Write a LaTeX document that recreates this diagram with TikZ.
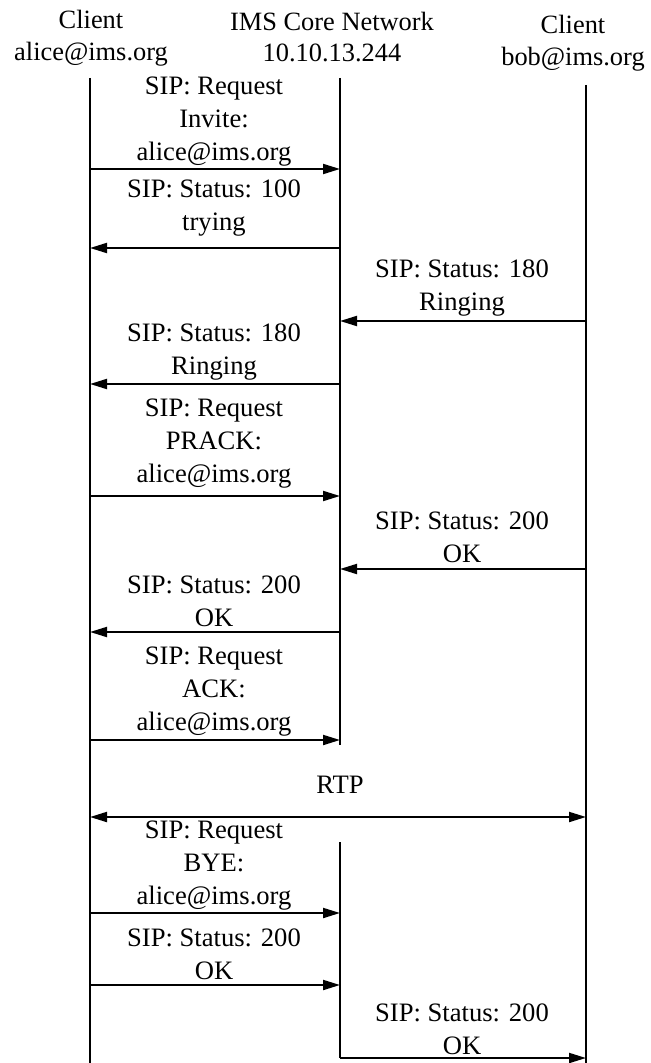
\documentclass[tikz,border=0pt]{standalone}
\usepackage{fontspec}
\setmainfont{Liberation Serif}
\usetikzlibrary{arrows.meta}
\begin{document}
\begin{tikzpicture}[x=0.5pt,y=-0.5pt,
  head/.style={font=\fontsize{13.2}{15.8}\selectfont, align=center, inner sep=0pt},
  lbl/.style={font=\fontsize{13.3}{16.5}\selectfont, align=center, inner sep=0pt},
  life/.style={line width=1pt},
  msg/.style={line width=1pt, -{Triangle[length=8.5pt,width=5pt]}},
  duplex/.style={line width=1pt, {Triangle[length=8.5pt,width=5pt]}-{Triangle[length=8.5pt,width=5pt]}}]
\useasboundingbox (0,0) rectangle (650,1063);

% participants
\node[head] (alice) at (91,38) {Client\\alice@ims.org};
\node[head] (ims) at (332,37) {IMS Core Network\\10.10.13.244};
\node[head] (bob) at (573,43) {Client\\bob@ims.org};

% lifeline end points
\coordinate (aT) at (90,78);   \coordinate (aB) at (90,1063);
\coordinate (mT) at (340,78);  \coordinate (mE) at (340,745);
\coordinate (mR) at (340,842); \coordinate (mB) at (340,1058);
\coordinate (bT) at (586,85);  \coordinate (bB) at (586,1063);

\draw[life] (aT) -- (aB);
\draw[life] (mT) -- (mE);
\draw[life] (mR) -- (mB);
\draw[life] (bT) -- (bB);

% message end points on the lifelines
\foreach \n/\y in {1/169,2/248,4/384,5/496,7/632,8/740,9/817,10/913,11/985}
  \coordinate (a\n) at (90,\y);
\foreach \n/\y in {1/169,2/248,3/321,4/384,5/496,6/569,7/632,8/740,10/913,11/985,12/1058}
  \coordinate (m\n) at (340,\y);
\foreach \n/\y in {3/321,6/569,9/817,12/1058}
  \coordinate (b\n) at (586,\y);

% messages
\draw[msg] (a1) -- (m1);
\node[lbl] (l1) at (214,122) {SIP: Request\\Invite:\\alice@ims.org};

\draw[msg] (m2) -- (a2);
\node[lbl] (l2) at (214,208) {SIP: Status: 100\\trying};

\draw[msg] (b3) -- (m3);
\node[lbl] (l3) at (462,288) {SIP: Status: 180\\Ringing};

\draw[msg] (m4) -- (a4);
\node[lbl] (l4) at (214,352) {SIP: Status: 180\\Ringing};

\draw[msg] (a5) -- (m5);
\node[lbl] (l5) at (214,444) {SIP: Request\\PRACK:\\alice@ims.org};

\draw[msg] (b6) -- (m6);
\node[lbl] (l6) at (462,537) {SIP: Status: 200\\OK};

\draw[msg] (m7) -- (a7);
\node[lbl] (l7) at (214,601) {SIP: Status: 200\\OK};

\draw[msg] (a8) -- (m8);
\node[lbl] (l8) at (214,692) {SIP: Request\\ACK:\\alice@ims.org};

\draw[duplex] (a9) -- (b9);
\node[lbl] (l9) at (340,785) {RTP};

\draw[msg] (a10) -- (m10);
\node[lbl] (l10) at (214,866) {SIP: Request\\BYE:\\alice@ims.org};

\draw[msg] (a11) -- (m11);
\node[lbl] (l11) at (214,954) {SIP: Status: 200\\OK};

\draw[msg] (m12) -- (b12);
\node[lbl] (l12) at (462,1029) {SIP: Status: 200\\OK};
\end{tikzpicture}
\end{document}
